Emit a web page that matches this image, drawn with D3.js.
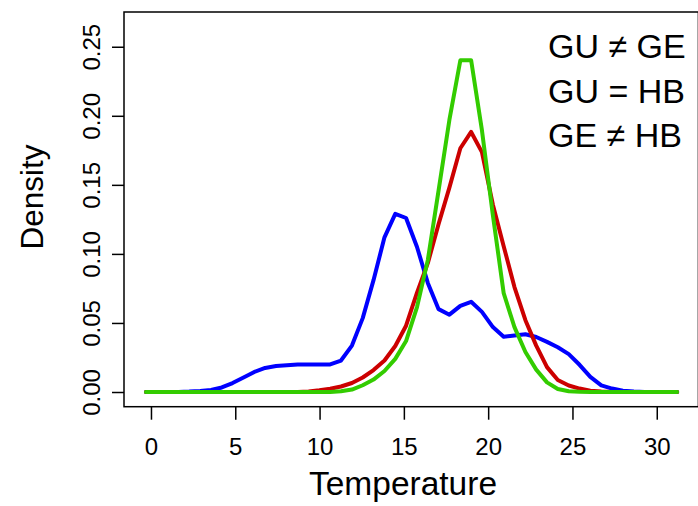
<!DOCTYPE html>
<html lang="en">
<head>
    <meta charset="UTF-8">
    <title>Temperature densities</title>
    <style>
        body, html {
            margin: 0;
            padding: 0;
            background: white;
        }
        #chart {
            width: 698px;
            height: 506px;
        }
        svg text {
            font-family: "Liberation Sans", Arial, Helvetica, sans-serif;
            fill: black;
        }
    </style>
    <script src="https://d3js.org/d3.v7.min.js"></script>
</head>
<body>
    <div id="chart"></div>
    <script>
        // evaluation grid of the density estimates
        const temperature = [-0.30, 0.34, 0.99, 1.63, 2.27, 2.92, 3.56, 4.20, 4.84, 5.49,
            6.13, 6.77, 7.42, 8.06, 8.70, 9.35, 9.99, 10.63, 11.27, 11.92,
            12.56, 13.20, 13.85, 14.49, 15.13, 15.78, 16.42, 17.06, 17.70, 18.35,
            18.99, 19.63, 20.28, 20.92, 21.56, 22.21, 22.85, 23.49, 24.13, 24.78,
            25.42, 26.06, 26.71, 27.35, 27.99, 28.64, 29.28, 29.92, 30.56, 31.21];

        // blue curve
        const densityGE = [0, 0, 0, 0, 0.0003, 0.0008, 0.0015, 0.0033, 0.0065, 0.0105,
            0.0145, 0.0174, 0.0188, 0.0193, 0.0199, 0.0200, 0.0199, 0.0200, 0.0228, 0.0336,
            0.0535, 0.0810, 0.1120, 0.1290, 0.1260, 0.1050, 0.0790, 0.0600, 0.0560, 0.0624,
            0.0653, 0.0580, 0.0470, 0.0400, 0.0409, 0.0418, 0.0398, 0.0363, 0.0324, 0.0274,
            0.0197, 0.0109, 0.0048, 0.0025, 0.0010, 0.0003, 0, 0, 0, 0];

        // red curve
        const densityGU = [0, 0, 0, 0, 0, 0, 0, 0, 0, 0,
            0, 0, 0, 0, 0, 0.0003, 0.0012, 0.0024, 0.0040, 0.0065,
            0.0105, 0.0159, 0.0228, 0.0333, 0.0480, 0.0719, 0.0933, 0.1216, 0.1480, 0.1765,
            0.1883, 0.1737, 0.1356, 0.1056, 0.0760, 0.0520, 0.0336, 0.0180, 0.0087, 0.0047,
            0.0025, 0.0010, 0.0003, 0, 0, 0, 0, 0, 0, 0];

        // green curve
        const densityHB = [0, 0, 0, 0, 0, 0, 0, 0, 0, 0,
            0, 0, 0, 0, 0, 0, 0, 0, 0.0005, 0.0018,
            0.0049, 0.0090, 0.0152, 0.0240, 0.0369, 0.0615, 0.0955, 0.1460, 0.1970, 0.2402,
            0.2402, 0.1896, 0.1280, 0.0716, 0.0470, 0.0290, 0.0162, 0.0070, 0.0022, 0.0005,
            0.0001, 0, 0, 0, 0, 0, 0, 0, 0, 0];

        const xTicks = [0, 5, 10, 15, 20, 25, 30];
        const yTicks = [0, 0.05, 0.10, 0.15, 0.20, 0.25];
        const legendLines = ["GU \u2260 GE", "GU = HB", "GE \u2260 HB"];

        const width = 698, height = 506;
        const plotLeft = 124, plotRight = 698.4, plotTop = 12, plotBottom = 406.7;

        const svg = d3.select("#chart").append("svg")
            .attr("width", width)
            .attr("height", height);

        const x = d3.scaleLinear().domain([-1.6, 32.47]).range([plotLeft, plotRight]);
        const y = d3.scaleLinear().domain([-0.01064, 0.27516]).range([plotBottom, plotTop]);

        // plot box
        svg.append("rect")
            .attr("x", plotLeft).attr("y", plotTop)
            .attr("width", plotRight - plotLeft).attr("height", plotBottom - plotTop)
            .attr("fill", "none")
            .attr("stroke", "black")
            .attr("stroke-width", 1.5);

        // x axis
        const xAxis = svg.append("g")
            .attr("transform", `translate(0,${plotBottom})`)
            .call(d3.axisBottom(x).tickValues(xTicks).tickSize(13).tickSizeOuter(0));
        xAxis.select(".domain").remove();
        xAxis.selectAll(".tick line").attr("stroke", "black").attr("stroke-width", 1.5);
        xAxis.selectAll(".tick text")
            .attr("font-size", 24)
            .attr("dy", null)
            .attr("y", 48.5);

        // y axis, labels parallel to the axis
        const yAxis = svg.append("g")
            .attr("transform", `translate(${plotLeft},0)`)
            .call(d3.axisLeft(y).tickValues(yTicks).tickSize(12).tickSizeOuter(0).tickFormat(d3.format(".2f")));
        yAxis.select(".domain").remove();
        yAxis.selectAll(".tick line").attr("stroke", "black").attr("stroke-width", 1.5);
        yAxis.selectAll(".tick text")
            .attr("font-size", 24)
            .attr("text-anchor", "middle")
            .attr("x", null)
            .attr("dy", null)
            .attr("transform", "translate(-24,0) rotate(-90)");

        // axis titles
        svg.append("text")
            .attr("x", 403).attr("y", 495)
            .attr("text-anchor", "middle")
            .attr("font-size", 33.5)
            .text("Temperature");

        svg.append("text")
            .attr("transform", "translate(43,197) rotate(-90)")
            .attr("text-anchor", "middle")
            .attr("font-size", 31.5)
            .text("Density");

        // density curves
        const series = [
            { values: densityGE, color: "#0000ff" },
            { values: densityGU, color: "#cc0000" },
            { values: densityHB, color: "#33cc00" }
        ];

        const line = d3.line()
            .x((d, i) => x(temperature[i]))
            .y(d => y(d));

        svg.selectAll("path.curve")
            .data(series)
            .join("path")
            .attr("class", "curve")
            .attr("d", d => line(d.values))
            .attr("fill", "none")
            .attr("stroke", d => d.color)
            .attr("stroke-width", 4)
            .attr("stroke-linejoin", "round")
            .attr("stroke-linecap", "round");

        // test results
        svg.selectAll("text.legend")
            .data(legendLines)
            .join("text")
            .attr("class", "legend")
            .attr("x", 548)
            .attr("y", (d, i) => 58 + i * 44.5)
            .attr("font-size", 34)
            .text(d => d);
    </script>
</body>
</html>
